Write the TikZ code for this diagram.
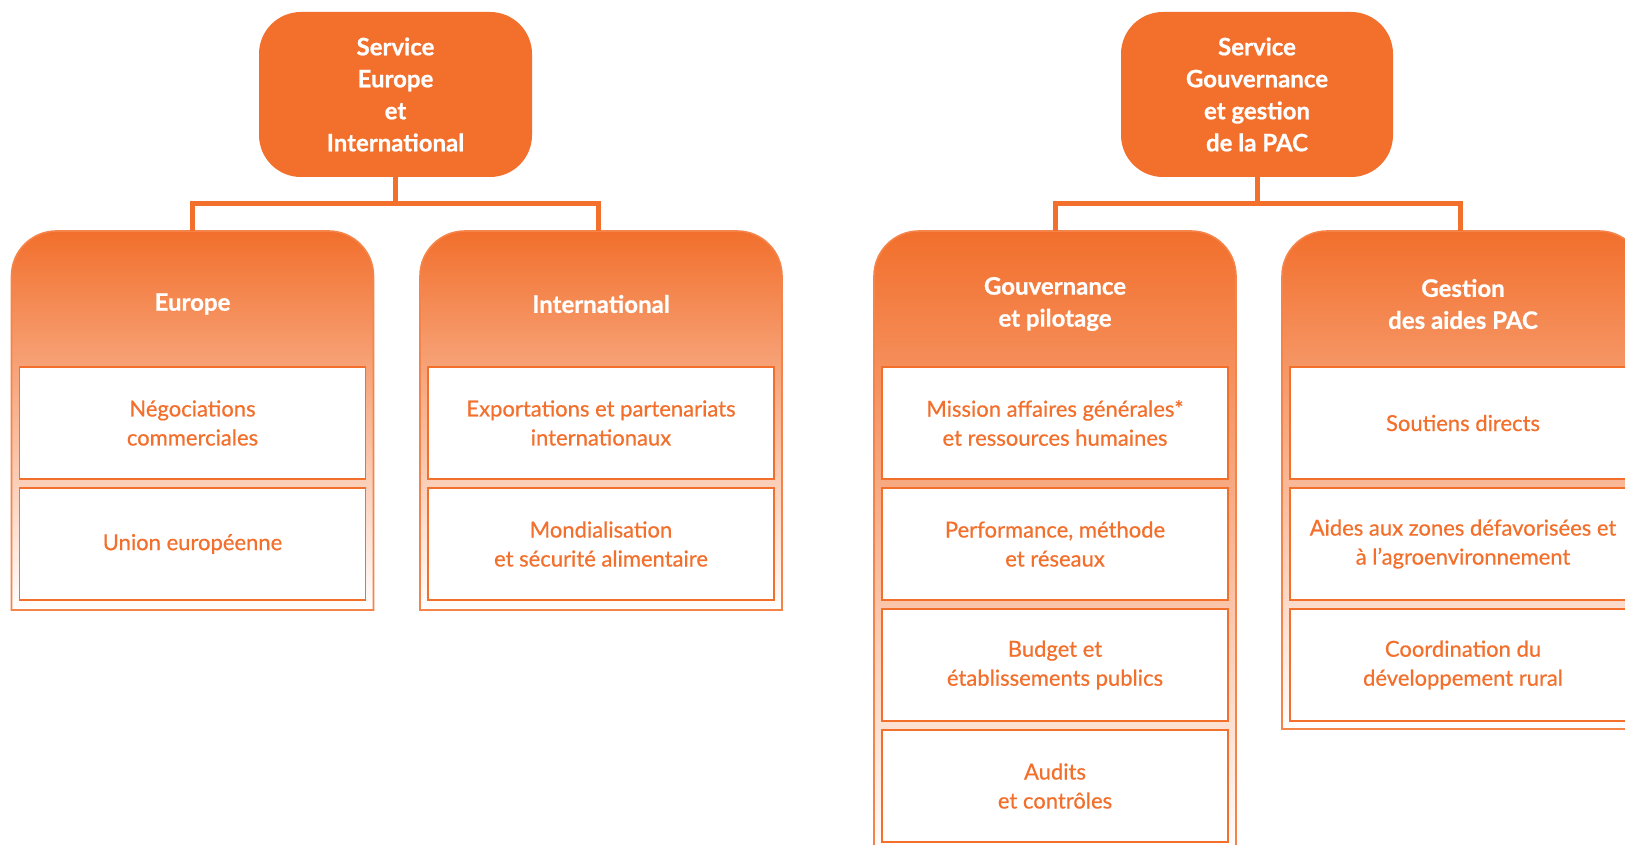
\documentclass[tikz,border=0pt]{standalone}
\usepackage{fontspec}
\setmainfont{Lato}
\newfontfamily\subfont{Lato}[FakeBold=0.5]
\newfontfamily\hdrfont{Lato}[FakeBold=0.8]
\definecolor{orng}{HTML}{F26F2C}
\definecolor{frm}{HTML}{F5844A}
\begin{document}
\begin{tikzpicture}[x=1pt,y=1pt,
  topbox/.style={fill=orng, rounded corners=42pt, minimum width=273pt, minimum height=165pt,
    text=white, font=\hdrfont\bfseries\fontsize{24pt}{32pt}\selectfont, align=center, inner sep=0pt},
  hdr/.style={minimum width=362pt, minimum height=146pt, text=white,
    font=\hdrfont\bfseries\fontsize{24pt}{32pt}\selectfont, align=center, inner sep=0pt},
  sub/.style={draw=orng, line width=1.6pt, fill=white, minimum width=346pt, minimum height=112pt,
    text=orng, font=\subfont\fontsize{22pt}{29pt}\selectfont, align=center, inner sep=0pt},
  frame/.style={draw=frm, line width=1.6pt, top color=orng, bottom color=white},
  conn/.style={draw=orng, line width=5pt}]
\useasboundingbox (0,0) rectangle (1625,-845);
\clip (0,0) rectangle (1625,-845);
\fill[white] (0,0) rectangle (1625,-845);

% column frames
\path[frame] (11.5,-610) -- (11.5,-276) arc[start angle=180,end angle=90,radius=45]
  -- (328.5,-231) arc[start angle=90,end angle=0,radius=45] -- (373.5,-610) -- cycle;
\path[frame] (420,-610) -- (420,-276) arc[start angle=180,end angle=90,radius=45]
  -- (737,-231) arc[start angle=90,end angle=0,radius=45] -- (782,-610) -- cycle;
\path[frame] (874,-858) -- (874,-276) arc[start angle=180,end angle=90,radius=45]
  -- (1191,-231) arc[start angle=90,end angle=0,radius=45] -- (1236,-858) -- cycle;
\path[frame] (1282,-729) -- (1282,-276) arc[start angle=180,end angle=90,radius=45]
  -- (1599,-231) arc[start angle=90,end angle=0,radius=45] -- (1644,-729) -- cycle;

% top boxes
\node[topbox] (sei) at (395.5,-94.5) {Service\\Europe\\et\\International};
\node[topbox, minimum width=272pt] (sgp) at (1257,-94.5) {Service\\Gouvernance\\et gestion\\de la PAC};

% headers
\node[hdr] (eu) at (192.5,-304) {Europe};
\node[hdr] (intl) at (601,-304) {International};
\node[hdr] (gouv) at (1055,-304) {Gouvernance\\et pilotage};
\node[hdr] (gest) at (1463,-304) {Gestion\\des aides PAC};

% connectors
\draw[conn] (sei.south) -- ++(0,-27);
\draw[conn] (eu.north) -- ++(0,27) -| ([xshift=-3pt]intl.north);
\draw[conn] (sgp.south) -- ++(0,-27);
\draw[conn] (gouv.north) -- ++(0,27) -| ([xshift=-3pt]gest.north);

% sub boxes
\node[sub] (eu1) at (192.5,-423) {Négociations\\commerciales};
\node[sub] (eu2) at (192.5,-544) {Union européenne};
\node[sub] (in1) at (601,-423) {Exportations et partenariats\\internationaux};
\node[sub] (in2) at (601,-544) {Mondialisation\\et sécurité alimentaire};
\node[sub] (go1) at (1055,-423) {Mission affaires générales*\\et ressources humaines};
\node[sub] (go2) at (1055,-544) {Performance, méthode\\et réseaux};
\node[sub] (go3) at (1055,-665) {Budget et\\établissements publics};
\node[sub] (go4) at (1055,-786) {Audits\\et contrôles};
\node[sub] (ge1) at (1463,-423) {Soutiens directs};
\node[sub] (ge2) at (1463,-544) {Aides aux zones défavorisées et\\à l’agroenvironnement};
\node[sub] (ge3) at (1463,-665) {Coordination du\\développement rural};
\end{tikzpicture}
\end{document}
